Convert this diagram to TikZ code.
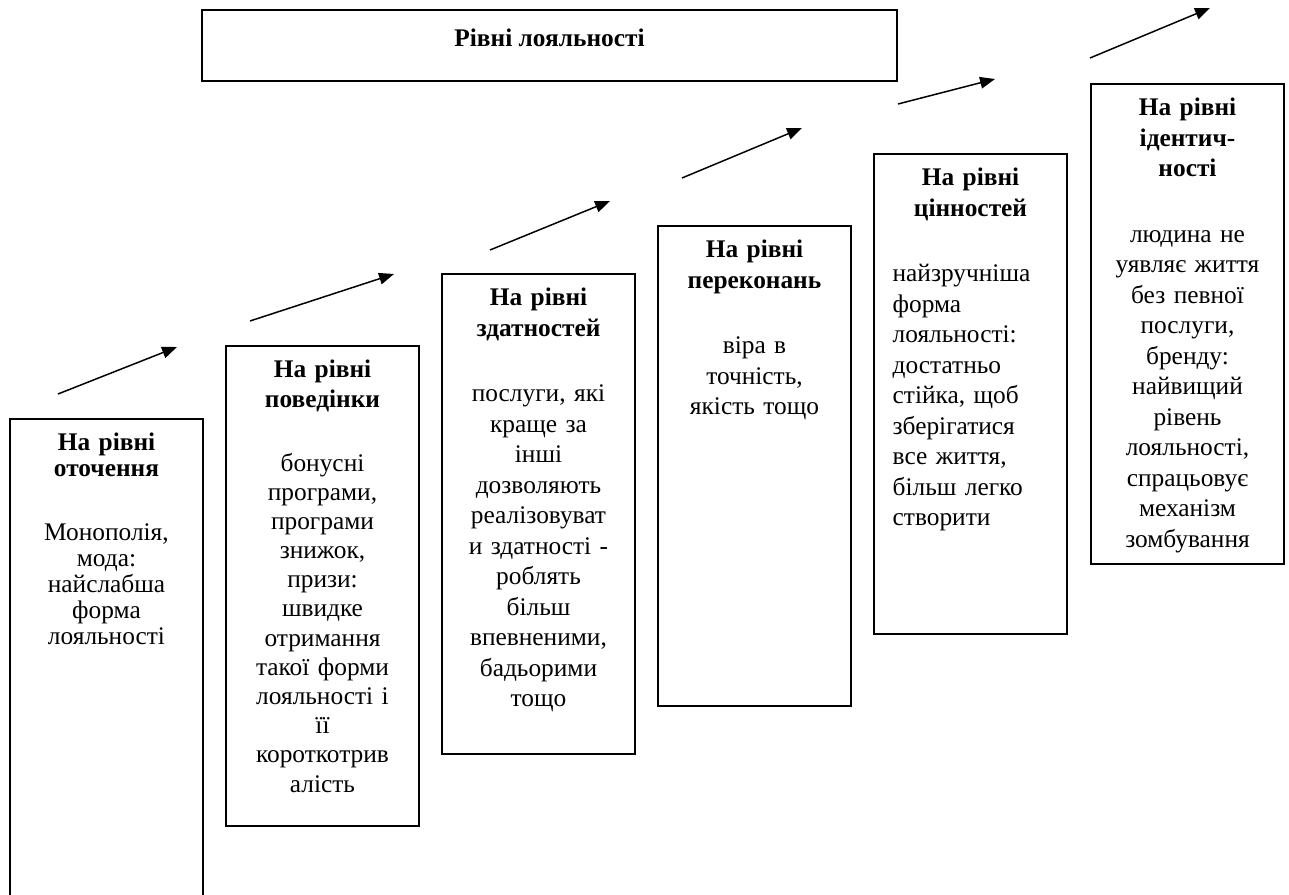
\documentclass[tikz,border=0pt]{standalone}
\usepackage{fontspec}
\setmainfont{Liberation Serif}
\usetikzlibrary{positioning,arrows.meta}
\tikzset{
  lvbox/.style={draw,line width=1.1pt,minimum width=4.09cm,minimum height=10.18cm,anchor=north},
  lvtext/.style={inner sep=0pt,text width=3.7cm,align=center,font=\fontsize{15.3}{18.4}\selectfont},
  rise/.style={-{Triangle[length=9pt,width=7pt]},line width=0.9pt}
}
\begin{document}
\begin{tikzpicture}[x=0.0212cm,y=-0.0212cm]
\useasboundingbox (0,0) rectangle (1289,895);
\node[draw,line width=1.1pt,minimum width=14.73cm,minimum height=1.5cm,text depth=9pt,
  font=\bfseries\fontsize{15.3}{18.4}\selectfont] (head) at (549.5,45.5) {Рівні лояльності};
% levels
\node[lvbox] (box1) at (106.5,418) {};
\node[lvtext,font=\fontsize{15.3}{15.6}\selectfont,below=9pt of box1.north] (txt1) {\textbf{На рівні}\\\textbf{оточення}\\[23pt]
  Монополія,\\мода:\\найслабша\\форма\\лояльності};
\node[lvbox] (box2) at (322.5,345) {};
\node[lvtext,font=\fontsize{15.3}{17.6}\selectfont,below=9pt of box2.north] (txt2) {\textbf{На рівні}\\\textbf{поведінки}\\[21pt]
  бонусні\\програми,\\програми\\знижок,\\призи:\\швидке\\отримання\\такої форми\\лояльності і\\її\\короткотрив\\алість};
\node[lvbox] (box3) at (538.5,273) {};
\node[lvtext,below=9pt of box3.north] (txt3) {\textbf{На рівні}\\\textbf{здатностей}\\[21pt]
  послуги, які\\краще за\\інші\\дозволяють\\реалізовуват\\и здатності -\\роблять\\більш\\впевненими,\\бадьорими\\тощо};
\node[lvbox] (box4) at (754.5,225) {};
\node[lvtext,below=9pt of box4.north] (txt4) {\textbf{На рівні}\\\textbf{переконань}\\[21pt]
  віра в\\точність,\\якість тощо};
\node[lvbox] (box5) at (970.5,153) {};
\node[lvtext,text width=3.3cm,align=left,below=9pt of box5.north] (txt5) {\hfil\textbf{На рівні}\hfil\\\hfil\textbf{цінностей}\hfil\\[21pt]
  найзручніша\\форма\\лояльності:\\достатньо\\стійка, щоб\\зберігатися\\все життя,\\більш легко\\створити};
\node[lvbox] (box6) at (1187.5,83) {};
\node[lvtext,below=9pt of box6.north] (txt6) {\textbf{На рівні}\\\textbf{ідентич-}\\\textbf{ності}\\[21pt]
  людина не\\уявляє життя\\без певної\\послуги,\\бренду:\\найвищий\\рівень\\лояльності,\\спрацьовує\\механізм\\зомбування};
% arrows
\foreach \i/\ax/\ay/\bx/\by in {1/58/394/177/347,2/250/321/394/274,3/490/250/610/201,
  4/682/178/802/128,5/898/104/995/79,6/1090/58/1210/8}{
  \coordinate (s\i) at (\ax,\ay);
  \coordinate (e\i) at (\bx,\by);
  \draw[rise] (s\i) -- (e\i);
}
\end{tikzpicture}
\end{document}
